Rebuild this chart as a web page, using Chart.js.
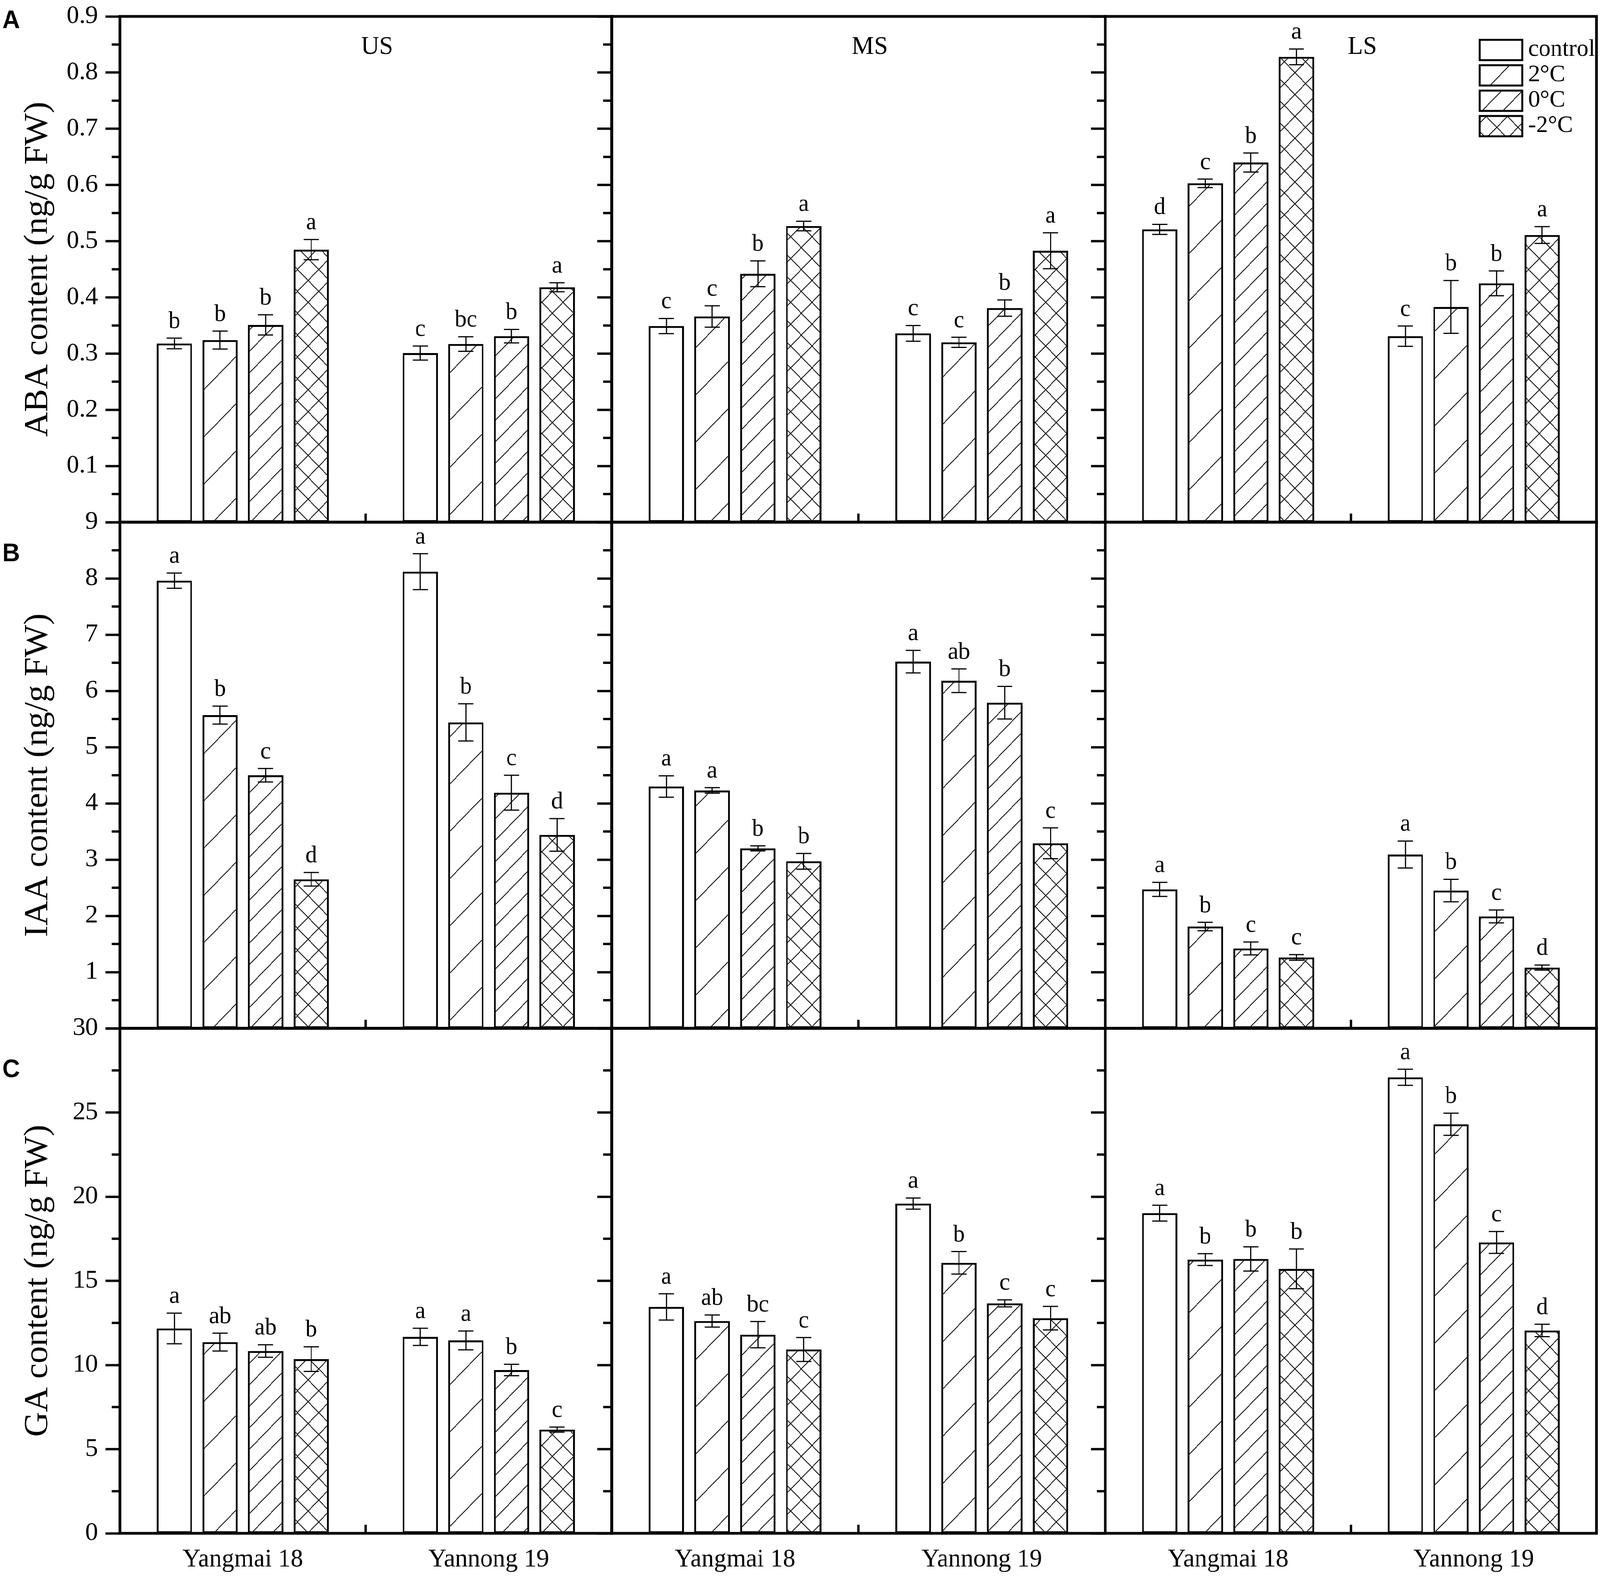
<!DOCTYPE html>
<html>
<head>
<meta charset="utf-8">
<script src="https://cdn.jsdelivr.net/npm/chart.js@4.4.1/dist/chart.umd.min.js"></script>
<style>
  html, body { margin: 0; padding: 0; background: #fff; overflow: hidden; }
  #page { position: relative; width: 4217px; height: 4043px; background: #fff; overflow: hidden; transform-origin: 0 0; }
  #page canvas { position: absolute; }
</style>
</head>
<body>
<div id="page"></div>
<script>
const stages = ['US', 'MS', 'LS'];
const cultivars = ['Yangmai 18', 'Yannong 19'];
const treatments = ['control', '2°C', '0°C', '-2°C'];

// values: Yangmai 18 (control, 2°C, 0°C, -2°C), then Yannong 19 (same order)
const abaUS = [0.318, 0.324, 0.351, 0.485, 0.301, 0.317, 0.331, 0.418];
const abaUSErr = [0.0095, 0.016, 0.018, 0.018, 0.0125, 0.013, 0.012, 0.008];
const abaUSSig = ['b', 'b', 'b', 'a', 'c', 'bc', 'b', 'a'];
const abaMS = [0.349, 0.366, 0.442, 0.527, 0.336, 0.320, 0.381, 0.483];
const abaMSErr = [0.0135, 0.019, 0.023, 0.0085, 0.014, 0.009, 0.0145, 0.032];
const abaMSSig = ['c', 'c', 'b', 'a', 'c', 'c', 'b', 'a'];
const abaLS = [0.521, 0.603, 0.640, 0.828, 0.331, 0.383, 0.425, 0.511];
const abaLSErr = [0.009, 0.0075, 0.017, 0.014, 0.018, 0.047, 0.022, 0.015];
const abaLSSig = ['d', 'c', 'b', 'a', 'c', 'b', 'b', 'a'];

const iaaUS = [7.96, 5.57, 4.50, 2.65, 8.12, 5.44, 4.19, 3.44];
const iaaUSErr = [0.135, 0.16, 0.12, 0.12, 0.32, 0.33, 0.31, 0.29];
const iaaUSSig = ['a', 'b', 'c', 'd', 'a', 'b', 'c', 'd'];
const iaaMS = [4.30, 4.23, 3.20, 2.97, 6.52, 6.18, 5.79, 3.29];
const iaaMSErr = [0.19, 0.05, 0.045, 0.14, 0.2, 0.21, 0.29, 0.275];
const iaaMSSig = ['a', 'a', 'b', 'b', 'a', 'ab', 'b', 'c'];
const iaaLS = [2.47, 1.81, 1.42, 1.26, 3.09, 2.45, 1.99, 1.08];
const iaaLSErr = [0.125, 0.075, 0.115, 0.05, 0.24, 0.2, 0.115, 0.045];
const iaaLSSig = ['a', 'b', 'c', 'c', 'a', 'b', 'c', 'd'];

const gaUS = [12.17, 11.36, 10.83, 10.35, 11.67, 11.46, 9.70, 6.16];
const gaUSErr = [0.91, 0.53, 0.37, 0.73, 0.51, 0.56, 0.34, 0.15];
const gaUSSig = ['a', 'ab', 'ab', 'b', 'a', 'a', 'b', 'c'];
const gaMS = [13.45, 12.61, 11.80, 10.92, 19.59, 16.07, 13.66, 12.78];
const gaMSErr = [0.78, 0.36, 0.78, 0.71, 0.33, 0.67, 0.21, 0.70];
const gaMSSig = ['a', 'ab', 'bc', 'c', 'a', 'b', 'c', 'c'];
const gaLS = [19.02, 16.26, 16.30, 15.71, 27.09, 24.30, 17.28, 12.05];
const gaLSErr = [0.47, 0.35, 0.72, 1.18, 0.48, 0.66, 0.65, 0.37];
const gaLSSig = ['a', 'b', 'b', 'b', 'a', 'b', 'c', 'd'];

const abaTicks = ['', '0.1', '0.2', '0.3', '0.4', '0.5', '0.6', '0.7', '0.8', '0.9'];
const iaaTicks = ['', '1', '2', '3', '4', '5', '6', '7', '8', '9'];
const gaTicks = ['0', '5', '10', '15', '20', '25', '30'];

const rows = [
  { letter: 'A', title: 'ABA content (ng/g FW)', max: 0.9, step: 0.1, ticks: abaTicks,
    values: [abaUS, abaMS, abaLS], errors: [abaUSErr, abaMSErr, abaLSErr], sig: [abaUSSig, abaMSSig, abaLSSig] },
  { letter: 'B', title: 'IAA content (ng/g FW)', max: 9, step: 1, ticks: iaaTicks,
    values: [iaaUS, iaaMS, iaaLS], errors: [iaaUSErr, iaaMSErr, iaaLSErr], sig: [iaaUSSig, iaaMSSig, iaaLSSig] },
  { letter: 'C', title: 'GA content (ng/g FW)', max: 30, step: 5, ticks: gaTicks,
    values: [gaUS, gaMS, gaLS], errors: [gaUSErr, gaMSErr, gaLSErr], sig: [gaUSSig, gaMSSig, gaLSSig] }
];

// page layout (px)
const colX = [316, 1612, 2913, 4208];
const rowY = [42, 1337, 2633, 3926];
const letterY = [72, 1437, 2758];
const serif = '"Liberation Serif", "Times New Roman", serif';

Chart.defaults.font.family = serif;
Chart.defaults.color = '#000';

function hatch(step, cross) {
  const c = document.createElement('canvas');
  c.width = c.height = step;
  const g = c.getContext('2d');
  g.fillStyle = '#fff';
  g.fillRect(0, 0, step, step);
  g.strokeStyle = '#000';
  g.lineWidth = 2;
  g.beginPath();
  g.moveTo(-2, step + 2); g.lineTo(step + 2, -2);
  g.moveTo(-2, 2); g.lineTo(2, -2);
  g.moveTo(step - 2, step + 2); g.lineTo(step + 2, step - 2);
  if (cross) {
    g.moveTo(-2, -2); g.lineTo(step + 2, step + 2);
    g.moveTo(step - 2, -2); g.lineTo(step + 2, 2);
    g.moveTo(-2, step - 2); g.lineTo(2, step + 2);
  }
  g.stroke();
  return g.createPattern(c, 'repeat');
}

const fills = ['#ffffff', hatch(121, false), hatch(55, false), hatch(56, true)];
const page = document.getElementById('page');

// fit the page if the window is smaller than the figure
const sx = Math.min(1, window.innerWidth / 4217), sy = Math.min(1, window.innerHeight / 4043);
if (sx < 1 || sy < 1) page.style.transform = 'scale(' + sx + ',' + sy + ')';

function makePanel(r, c) {
  const row = rows[r];
  const L = c === 0 ? colX[0] : 60;
  const R = c === 2 ? 4217 - colX[3] : 60;
  const T = 80;
  const B = r === 2 ? 4043 - rowY[3] : 80;
  const left = colX[c] - L, top = rowY[r] - T;
  const w = colX[c + 1] - colX[c] + L + R;
  const h = rowY[r + 1] - rowY[r] + T + B;

  const canvas = document.createElement('canvas');
  canvas.width = w;
  canvas.height = h;
  canvas.style.left = left + 'px';
  canvas.style.top = top + 'px';
  canvas.style.width = w + 'px';
  canvas.style.height = h + 'px';
  page.appendChild(canvas);

  const vals = row.values[c], errs = row.errors[c], sig = row.sig[c];
  const datasets = treatments.map((t, k) => ({
    label: t,
    data: [vals[k], vals[4 + k]],
    err: [errs[k], errs[4 + k]],
    sig: [sig[k], sig[4 + k]],
    backgroundColor: fills[k],
    borderColor: '#000',
    borderWidth: 5,
    borderSkipped: false,
    categoryPercentage: 0.742,
    barPercentage: 0.775
  }));

  const decor = {
    id: 'decor',
    afterDatasetsDraw(chart) {
      const ctx = chart.ctx, y = chart.scales.y;
      ctx.save();
      ctx.strokeStyle = '#000';
      ctx.fillStyle = '#000';
      ctx.lineWidth = 3;
      ctx.font = '62px ' + serif;
      ctx.textAlign = 'center';
      ctx.textBaseline = 'alphabetic';
      chart.data.datasets.forEach((ds, i) => {
        chart.getDatasetMeta(i).data.forEach((bar, j) => {
          const hi = y.getPixelForValue(ds.data[j] + ds.err[j]);
          const lo = y.getPixelForValue(ds.data[j] - ds.err[j]);
          ctx.beginPath();
          ctx.moveTo(bar.x, hi); ctx.lineTo(bar.x, lo);
          ctx.moveTo(bar.x - 20, hi); ctx.lineTo(bar.x + 20, hi);
          ctx.moveTo(bar.x - 20, lo); ctx.lineTo(bar.x + 20, lo);
          ctx.stroke();
          ctx.fillText(ds.sig[j], bar.x, hi - 26);
        });
      });
      ctx.restore();
    },
    afterDraw(chart) {
      const ctx = chart.ctx, ca = chart.chartArea;
      const x = chart.scales.x, y = chart.scales.y;
      ctx.save();
      ctx.strokeStyle = '#000';
      ctx.fillStyle = '#000';

      // minor ticks
      ctx.lineWidth = 6;
      ctx.beginPath();
      const yt = y.ticks;
      for (let i = 0; i < yt.length - 1; i++) {
        const py = y.getPixelForValue((yt[i].value + yt[i + 1].value) / 2);
        ctx.moveTo(ca.left - 22, py); ctx.lineTo(ca.left, py);
      }
      // tick between the two cultivars
      const xm = (x.getPixelForValue(0) + x.getPixelForValue(1)) / 2;
      ctx.moveTo(xm, ca.bottom); ctx.lineTo(xm, ca.bottom - 22);
      ctx.stroke();

      // frame
      ctx.lineWidth = 7;
      ctx.strokeRect(ca.left, ca.top, ca.right - ca.left, ca.bottom - ca.top);

      if (r === 0) {
        ctx.font = '66px ' + serif;
        ctx.textAlign = 'center';
        ctx.fillText(stages[c], (ca.left + ca.right) / 2 + 30, ca.top + 96);
      }
      if (r === 0 && c === 2) {
        treatments.forEach((t, k) => {
          const bx = ca.right - 308, by = ca.top + 60 + k * 65;
          ctx.fillStyle = fills[k];
          ctx.fillRect(bx, by, 112, 52);
          ctx.lineWidth = 5;
          ctx.strokeRect(bx, by, 112, 52);
          ctx.fillStyle = '#000';
          ctx.font = '62px ' + serif;
          ctx.textAlign = 'left';
          ctx.fillText(t, ca.right - 180, by + 41);
        });
      }
      if (c === 0) {
        ctx.font = 'bold 64px "Liberation Sans", Arial, sans-serif';
        ctx.textAlign = 'left';
        ctx.fillText(row.letter, 6 - left, letterY[r] - top);
      }
      ctx.restore();
    }
  };

  new Chart(canvas, {
    type: 'bar',
    data: { labels: cultivars, datasets: datasets },
    options: {
      responsive: false,
      maintainAspectRatio: false,
      animation: false,
      devicePixelRatio: 1,
      events: [],
      layout: { padding: { left: 0, right: R, top: T, bottom: r === 2 ? 0 : B } },
      plugins: { legend: { display: false }, tooltip: { enabled: false } },
      scales: {
        x: {
          type: 'category',
          display: r === 2,
          grid: { display: false, drawTicks: false },
          border: { display: false },
          ticks: { font: { size: 66 }, padding: 28, color: '#000', maxRotation: 0 },
          afterFit: s => { if (r === 2) s.height = B; }
        },
        y: {
          min: 0,
          max: row.max,
          grid: { display: true, drawOnChartArea: false, drawTicks: true, tickLength: 38, tickWidth: 6, tickColor: '#000' },
          border: { display: false },
          ticks: {
            display: c === 0,
            stepSize: row.step,
            font: { size: 66 },
            padding: 20,
            color: '#000',
            callback: (v, i) => row.ticks[i]
          },
          title: {
            display: c === 0,
            text: row.title,
            font: { size: 88 },
            color: '#000',
            padding: { top: 48, bottom: 0 }
          },
          afterFit: s => { s.width = L; }
        }
      }
    },
    plugins: [decor]
  });
}

for (let r = 0; r < 3; r++) {
  for (let c = 0; c < 3; c++) makePanel(r, c);
}
</script>
</body>
</html>
